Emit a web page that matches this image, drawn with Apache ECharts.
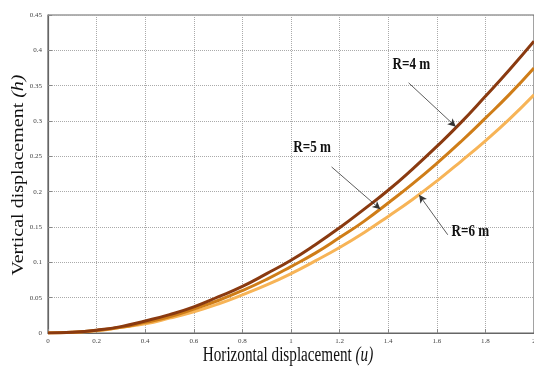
<!DOCTYPE html>
<html><head><meta charset="utf-8">
<script src="https://cdn.jsdelivr.net/npm/echarts@6/dist/echarts.min.js"></script>
<style>html,body{margin:0;padding:0;background:#fff}#c{width:534px;height:367px}</style>
</head><body><div id="c"></div>
<script>
var u = [0,0.1,0.2,0.3,0.4,0.5,0.6,0.7,0.8,0.9,1.0,1.1,1.2,1.3,1.4,1.5,1.6,1.7,1.8,1.9,2.0];
var hR4 = [0,0.001,0.004,0.009,0.017,0.026,0.037,0.051,0.066,0.084,0.103,0.125,0.149,0.175,0.202,0.232,0.264,0.298,0.335,0.373,0.413];
var hR5 = [0,0.001,0.004,0.008,0.015,0.023,0.034,0.046,0.060,0.076,0.094,0.113,0.135,0.158,0.184,0.211,0.240,0.271,0.304,0.338,0.375];
var hR6 = [0,0.001,0.003,0.008,0.013,0.021,0.030,0.041,0.054,0.068,0.084,0.102,0.121,0.142,0.165,0.189,0.215,0.243,0.272,0.303,0.337];
var seriesNames = ['R=4 m','R=5 m','R=6 m'];
var colors = ['#8a3a10','#cf7d18','#f7b457'];
// annotations: [textU, textH, arrowFromU, arrowFromH, arrowToU, arrowToH]
var notes = [
  [1.495,0.379, 1.484,0.354, 1.678,0.292],
  [1.087,0.262, 1.167,0.235, 1.368,0.175],
  [1.738,0.143, 1.645,0.139, 1.527,0.1955]
];
function pairs(h){return u.map(function(x,i){return [x,h[i]];});}
var all=[hR4,hR5,hR6];
var series = all.map(function(h,k){
  var n=notes[k];
  return {
    type:'line', name:seriesNames[k], data:pairs(h), showSymbol:false, smooth:true,
    lineStyle:{color:colors[k],width:3}, itemStyle:{color:colors[k]}, z:3-k,
    markLine:{silent:true, symbol:['none','arrow'], symbolSize:[6,8],
      lineStyle:{color:'#333',width:0.8,type:'solid'}, label:{show:false},
      data:[[{coord:[n[2],n[3]]},{coord:[n[4],n[5]]}]]}
  };
});
var chart = echarts.init(document.getElementById('c'));
chart.setOption({
  animation:false,
  grid:{left:48,right:0,top:15,bottom:34,show:true,borderColor:'#666',borderWidth:1.2,outerBoundsMode:'none',containLabel:false},
  xAxis:{type:'value',min:0,max:2,interval:0.2,
    axisLine:{lineStyle:{color:'#666',width:1.2}},
    axisTick:{inside:true,length:4,lineStyle:{color:'#888'}},
    axisLabel:{fontSize:7,color:'#444',fontFamily:'Liberation Sans Narrow',margin:5,hideOverlap:false,formatter:function(v){return +v.toFixed(1)+'';}},
    splitLine:{show:true,lineStyle:{type:'dotted',color:'#aaa',width:1}}},
  yAxis:{type:'value',min:0,max:0.45,interval:0.05,
    axisLine:{show:true,lineStyle:{color:'#666',width:1.2}},
    axisTick:{show:true,inside:true,length:4,lineStyle:{color:'#888'}},
    axisLabel:{fontSize:7,color:'#444',fontFamily:'Liberation Sans Narrow',margin:6,formatter:function(v){return +v.toFixed(2)+'';}},
    splitLine:{show:true,lineStyle:{type:'dotted',color:'#aaa',width:1}}},
  series:series
});
var rich = {
  a:{fontFamily:'Liberation Serif',fontSize:20,fill:'#111',color:'#111'},
  b:{fontFamily:'Liberation Serif',fontSize:20,fontStyle:'italic',fill:'#111',color:'#111'}
};
var graphics = [
  {type:'text', x:288, y:356, scaleX:0.76, scaleY:1, z:10,
   style:{text:'{a|Horizontal displacement }{b|(u)}', rich:rich, align:'center', verticalAlign:'middle'}},
  {type:'text', x:19, y:175, rotation:Math.PI/2, scaleX:1, scaleY:0.8, z:10,
   style:{text:'{a|Vertical displacement }{b|(h)}', rich:rich, align:'center', verticalAlign:'middle'}}
];
notes.forEach(function(n,k){
  var p = chart.convertToPixel({gridIndex:0},[n[0],n[1]]);
  graphics.push({type:'text', x:p[0], y:p[1], scaleX:0.82, z:10,
    style:{text:seriesNames[k], font:'bold 16px "Liberation Serif"', fill:'#111', align:'center', verticalAlign:'middle'}});
});
chart.setOption({graphic:graphics});
</script></body></html>
